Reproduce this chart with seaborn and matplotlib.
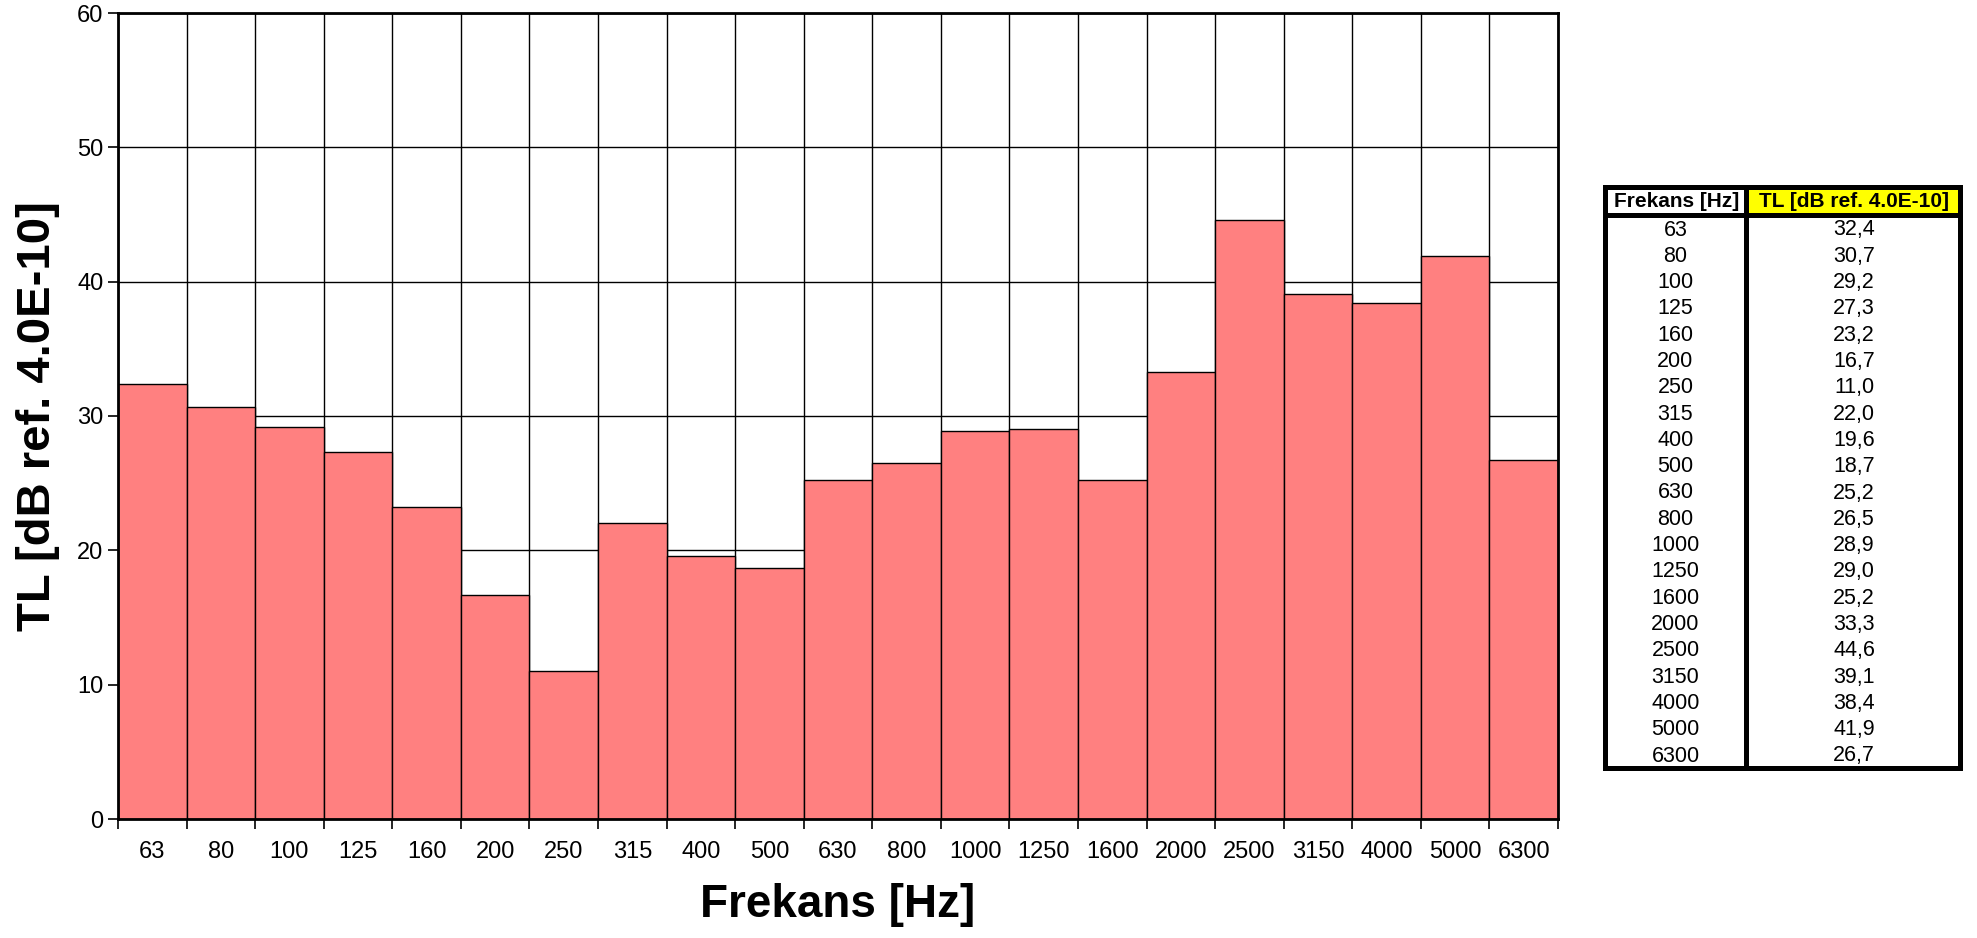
import matplotlib
matplotlib.use("Agg")
import matplotlib.pyplot as plt
import seaborn as sns
import pandas as pd
import numpy as np
from matplotlib.patches import Rectangle

freqs = ["63", "80", "100", "125", "160", "200", "250", "315", "400", "500", "630",
         "800", "1000", "1250", "1600", "2000", "2500", "3150", "4000", "5000", "6300"]
tl = [32.4, 30.7, 29.2, 27.3, 23.2, 16.7, 11.0, 22.0, 19.6, 18.7, 25.2,
      26.5, 28.9, 29.0, 25.2, 33.3, 44.6, 39.1, 38.4, 41.9, 26.7]
yticks = [0, 10, 20, 30, 40, 50, 60]
xlabel = "Frekans [Hz]"
ylabel = "TL [dB ref. 4.0E-10]"
col_headers = ["Frekans [Hz]", "TL [dB ref. 4.0E-10]"]

df = pd.DataFrame({"f": freqs, "tl": tl})

sns.set_theme(style="white")
plt.rcParams['font.family'] = ['Liberation Sans', 'DejaVu Sans']

W, H = 1977, 938
fig = plt.figure(figsize=(W / 100, H / 100), dpi=100)
ax = fig.add_axes([118 / W, 1 - 819 / H, 1440 / W, 806 / H])

sns.barplot(data=df, x="f", y="tl", order=freqs, color="#FF8080", saturation=1,
            width=1.0, edgecolor="black", linewidth=1.0, ax=ax, zorder=3)

n = len(freqs)
ax.set_xlim(-0.5, n - 0.5)
ax.set_ylim(0, 60)
ax.set_yticks(yticks)
ax.set_xticks(np.arange(-0.5, n, 1.0), minor=True)
ax.tick_params(axis="x", which="major", length=0, labelsize=17, pad=16, colors="black")
ax.tick_params(axis="x", which="minor", length=7, width=1.2, direction="out", bottom=True, color="black")
ax.tick_params(axis="y", which="major", length=7, width=1.2, direction="out", left=True,
               labelsize=17, color="black", labelcolor="black")
ax.grid(False)
ax.grid(True, axis="y", which="major", color="black", linewidth=1.0, zorder=0)
ax.grid(True, axis="x", which="minor", color="black", linewidth=1.0, zorder=0)
ax.set_axisbelow(True)
for s in ax.spines.values():
    s.set_visible(True)
    s.set_color("black")
    s.set_linewidth(2.0)
    s.set_zorder(5)
ax.set_xlabel(xlabel, fontsize=33, fontweight="bold", color="black")
ax.set_ylabel(ylabel, fontsize=34, fontweight="bold", color="black")
ax.xaxis.set_label_coords(0.5, (819 - 905) / 806)
ax.xaxis.label.set_va("center")
ax.yaxis.set_label_coords((38 - 118) / 1440, 0.5)
ax.yaxis.label.set_va("center")

# table
tx = fig.add_axes([0, 0, 1, 1], facecolor="none")
tx.set_xlim(0, W)
tx.set_ylim(H, 0)
tx.axis("off")
left, right, top, hdr, bottom, mid = 1605, 1960, 187, 215, 768, 1746
tx.add_patch(Rectangle((mid, top), right - mid, hdr - top, facecolor="#FFFF00", edgecolor="none"))
tx.add_patch(Rectangle((left, top), right - left, bottom - top, facecolor="none",
                       edgecolor="black", linewidth=3.6))
tx.plot([left, right], [hdr, hdr], color="black", linewidth=3.6)
tx.plot([mid, mid], [top, bottom], color="black", linewidth=3.6)
tx.text((left + mid) / 2 + 1, (top + hdr) / 2 + 0.5, col_headers[0], ha="center", va="center",
        fontsize=15, fontweight="bold", color="black")
tx.text((mid + right) / 2 + 1, (top + hdr) / 2 + 0.5, col_headers[1], ha="center", va="center",
        fontsize=15, fontweight="bold", color="black")
y0, dy = 230, 26.3
for i, (f, v) in enumerate(zip(freqs, tl)):
    y = y0 + i * dy
    tx.text((left + mid) / 2, y, f, ha="center", va="center", fontsize=15.5, color="black")
    tx.text((mid + right) / 2 + 1, y, f"{v:.1f}".replace(".", ","), ha="center", va="center",
            fontsize=15.5, color="black")

fig.savefig("out.png", dpi=100)
